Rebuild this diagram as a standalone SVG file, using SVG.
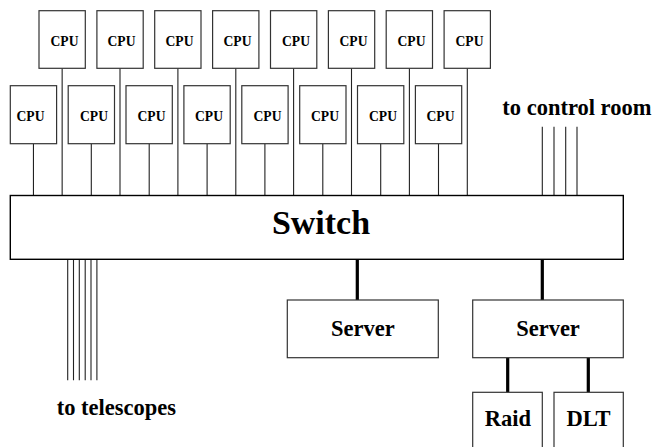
<svg xmlns="http://www.w3.org/2000/svg" width="654" height="447" viewBox="0 0 654 447">
<style>
  .box { fill: #fff; stroke: #333; stroke-width: 1.2; }
  .sw { fill: #fff; stroke: #000; stroke-width: 1.4; }
  .thin { stroke: #222; stroke-width: 1.1; fill: none; }
  .thick { stroke: #000; stroke-width: 3.2; fill: none; }
  text { font-weight: bold; fill: #000; }
  .cpu { font-size: 13.6px; text-anchor: middle; }
  .lbl { font-size: 22.5px; }
  .mid { text-anchor: middle; }
</style>
<rect width="654" height="447" fill="#fff"/>
<g id="connectors">
  <path class="thin" d="M62.15 68.3V195.5 M120 68.3V195.5 M177.9 68.3V195.5 M235.8 68.3V195.5 M293.6 68.3V195.5 M351.5 68.3V195.5 M409.4 68.3V195.5 M467.3 68.3V195.5"/>
  <path class="thin" d="M33.45 143.7V195.5 M91.3 143.7V195.5 M149.2 143.7V195.5 M207.1 143.7V195.5 M264.9 143.7V195.5 M322.8 143.7V195.5 M380.7 143.7V195.5 M438.5 143.7V195.5"/>
  <path class="thin" d="M542.3 126.7V195.5 M554 126.7V195.5 M565.7 126.7V195.5 M577 126.7V195.5"/>
  <path class="thin" d="M67.7 259.3V380.3 M73.5 259.3V380.3 M79.3 259.3V380.3 M85.2 259.3V380.3 M91 259.3V380.3 M96.9 259.3V380.3"/>
  <path class="thick" d="M357.3 259.3V300 M542.3 259.3V300 M507.7 357.7V392.3 M588.3 357.7V392.3"/>
</g>
<g font-family="'Liberation Serif', 'DejaVu Serif', serif">
<g id="cpu-top-1"><rect class="box" x="39" y="10.7" width="46.3" height="57.6"/><text class="cpu" x="64.5" y="45.7">CPU</text></g>
<g id="cpu-top-2"><rect class="box" x="96.9" y="10.7" width="46.3" height="57.6"/><text class="cpu" x="121.5" y="45.7">CPU</text></g>
<g id="cpu-top-3"><rect class="box" x="154.7" y="10.7" width="46.3" height="57.6"/><text class="cpu" x="179.5" y="45.7">CPU</text></g>
<g id="cpu-top-4"><rect class="box" x="212.6" y="10.7" width="46.3" height="57.6"/><text class="cpu" x="237.5" y="45.7">CPU</text></g>
<g id="cpu-top-5"><rect class="box" x="270.5" y="10.7" width="46.3" height="57.6"/><text class="cpu" x="296" y="45.7">CPU</text></g>
<g id="cpu-top-6"><rect class="box" x="328.4" y="10.7" width="46.3" height="57.6"/><text class="cpu" x="353.5" y="45.7">CPU</text></g>
<g id="cpu-top-7"><rect class="box" x="386.2" y="10.7" width="46.3" height="57.6"/><text class="cpu" x="411.5" y="45.7">CPU</text></g>
<g id="cpu-top-8"><rect class="box" x="444.1" y="10.7" width="46.3" height="57.6"/><text class="cpu" x="469.5" y="45.7">CPU</text></g>
<g id="cpu-bot-1"><rect class="box" x="10.3" y="85.7" width="46.3" height="58"/><text class="cpu" x="30.5" y="121.3">CPU</text></g>
<g id="cpu-bot-2"><rect class="box" x="68.2" y="85.7" width="46.3" height="58"/><text class="cpu" x="94" y="121.3">CPU</text></g>
<g id="cpu-bot-3"><rect class="box" x="126" y="85.7" width="46.3" height="58"/><text class="cpu" x="151.5" y="121.3">CPU</text></g>
<g id="cpu-bot-4"><rect class="box" x="183.9" y="85.7" width="46.3" height="58"/><text class="cpu" x="209" y="121.3">CPU</text></g>
<g id="cpu-bot-5"><rect class="box" x="241.8" y="85.7" width="46.3" height="58"/><text class="cpu" x="267.5" y="121.3">CPU</text></g>
<g id="cpu-bot-6"><rect class="box" x="299.7" y="85.7" width="46.3" height="58"/><text class="cpu" x="325" y="121.3">CPU</text></g>
<g id="cpu-bot-7"><rect class="box" x="357.5" y="85.7" width="46.3" height="58"/><text class="cpu" x="383" y="121.3">CPU</text></g>
<g id="cpu-bot-8"><rect class="box" x="415.4" y="85.7" width="46.3" height="58"/><text class="cpu" x="440.5" y="121.3">CPU</text></g>
<g id="switch"><rect class="sw" x="10.3" y="195.5" width="613" height="63.8"/><text x="321" y="234" font-size="34" class="mid">Switch</text></g>
<g id="control-room"><text class="lbl" x="502.3" y="115">to control room</text></g>
<g id="telescopes"><text class="lbl" x="56.7" y="415">to telescopes</text></g>
<g id="server-1"><rect class="box" x="287.3" y="300" width="151" height="57.7"/><text class="lbl mid" x="362.8" y="335.7">Server</text></g>
<g id="server-2"><rect class="box" x="472.7" y="300" width="150.6" height="57.7"/><text class="lbl mid" x="548" y="335.7">Server</text></g>
<g id="raid"><rect class="box" x="472.7" y="392.3" width="69.6" height="62"/><text class="lbl mid" x="508" y="425.7">Raid</text></g>
<g id="dlt"><rect class="box" x="554" y="392.3" width="69.3" height="62"/><text class="lbl mid" x="588.5" y="425.7">DLT</text></g>
</g>
</svg>
